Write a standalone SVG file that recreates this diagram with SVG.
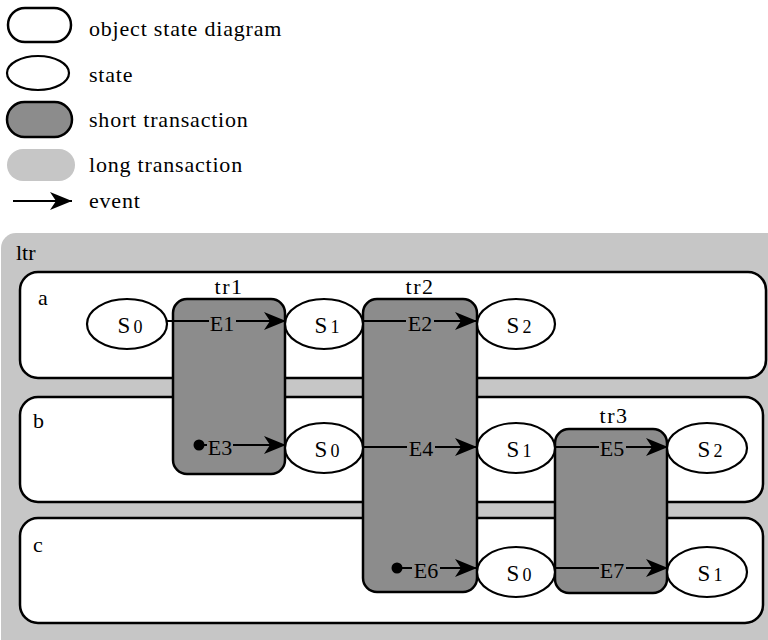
<svg xmlns="http://www.w3.org/2000/svg" width="768" height="640" viewBox="0 0 768 640" font-family="'Liberation Serif', serif">
<style>
.osd{fill:#fff;stroke:#000;stroke-width:2.5}
.state{fill:#fff;stroke:#000;stroke-width:2.2}
.short{fill:#8c8c8c;stroke:#000;stroke-width:2.5}
.long{fill:#c6c6c6;stroke:none}
.conn{fill:none;stroke:#000;stroke-width:2;marker-end:url(#arr)}
</style>
<defs>
<marker id="arr" markerUnits="userSpaceOnUse" viewBox="0 0 22 18" refX="22" refY="9" markerWidth="22" markerHeight="18" orient="auto">
<path d="M0,0 L22,9 L0,18 L6,9 Z" fill="#000"/>
</marker>
</defs>
<rect width="768" height="640" fill="#fff"/>

<g id="legend">
<rect class="osd" x="8" y="8" width="63" height="34" rx="17"/>
<text x="89" y="36" font-size="22" letter-spacing="0.8">object state diagram</text>
<ellipse class="state" cx="38" cy="73" rx="31" ry="17"/>
<text x="89" y="82" font-size="22" letter-spacing="0.8">state</text>
<rect class="short" x="7" y="102" width="65" height="35" rx="17.5"/>
<text x="89" y="127" font-size="22" letter-spacing="0.8">short transaction</text>
<rect class="long" x="7" y="149" width="68" height="32" rx="16"/>
<text x="89" y="172" font-size="22" letter-spacing="0.8">long transaction</text>
<path class="conn" d="M13,201 H72"/>
<text x="89" y="208" font-size="22" letter-spacing="0.8">event</text>
</g>

<g id="ltr">
<rect class="long" x="1" y="233" width="800" height="430" rx="15"/>
<text x="16" y="260" font-size="22">ltr</text>
</g>

<g id="a">
<rect class="osd" x="20" y="272" width="746" height="106" rx="18"/>
<text x="38" y="305" font-size="22">a</text>
</g>
<g id="b">
<rect class="osd" x="20" y="397" width="743" height="105" rx="18"/>
<text x="33" y="428" font-size="22">b</text>
</g>
<g id="c">
<rect class="osd" x="20" y="518" width="743" height="105" rx="18"/>
<text x="33" y="552" font-size="22">c</text>
</g>

<g id="tr1">
<rect class="short" x="173" y="299" width="112" height="175" rx="14"/>
<text x="229" y="294" text-anchor="middle" font-size="22" letter-spacing="1.5">tr1</text>
</g>
<g id="tr2">
<rect class="short" x="363" y="299" width="114" height="293" rx="14"/>
<text x="420" y="294" text-anchor="middle" font-size="22" letter-spacing="1.5">tr2</text>
</g>
<g id="tr3">
<rect class="short" x="555" y="429" width="112" height="164" rx="14"/>
<text x="614" y="423" text-anchor="middle" font-size="22" letter-spacing="1.5">tr3</text>
</g>

<g id="a-S0"><ellipse class="state" cx="127" cy="324" rx="40" ry="25"/><text x="130" y="333" text-anchor="middle" font-size="23">S<tspan font-size="18" dx="3">0</tspan></text></g>
<g id="a-S1"><ellipse class="state" cx="324" cy="324" rx="39" ry="25"/><text x="327" y="333" text-anchor="middle" font-size="23">S<tspan font-size="18" dx="3">1</tspan></text></g>
<g id="a-S2"><ellipse class="state" cx="516" cy="324" rx="39" ry="25"/><text x="519" y="333" text-anchor="middle" font-size="23">S<tspan font-size="18" dx="3">2</tspan></text></g>
<g id="b-S0"><ellipse class="state" cx="324" cy="448" rx="39" ry="25"/><text x="327" y="457" text-anchor="middle" font-size="23">S<tspan font-size="18" dx="3">0</tspan></text></g>
<g id="b-S1"><ellipse class="state" cx="516" cy="448" rx="39" ry="25"/><text x="519" y="457" text-anchor="middle" font-size="23">S<tspan font-size="18" dx="3">1</tspan></text></g>
<g id="b-S2"><ellipse class="state" cx="707" cy="448" rx="40" ry="25"/><text x="710" y="457" text-anchor="middle" font-size="23">S<tspan font-size="18" dx="3">2</tspan></text></g>
<g id="c-S0"><ellipse class="state" cx="516" cy="572" rx="39" ry="25"/><text x="519" y="581" text-anchor="middle" font-size="23">S<tspan font-size="18" dx="3">0</tspan></text></g>
<g id="c-S1"><ellipse class="state" cx="707" cy="572" rx="40" ry="25"/><text x="710" y="581" text-anchor="middle" font-size="23">S<tspan font-size="18" dx="3">1</tspan></text></g>

<g id="connectors">
<path class="conn" d="M167,321 H209 M236,321 H286"/>
<text x="222" y="331" text-anchor="middle" font-size="22">E1</text>
<path class="conn" d="M363,321 H406 M434,321 H477"/>
<text x="420" y="331" text-anchor="middle" font-size="22">E2</text>
<circle cx="199" cy="445" r="5.5" fill="#000"/>
<path class="conn" d="M199,445 H207 M233,445 H286"/>
<text x="220" y="455" text-anchor="middle" font-size="22">E3</text>
<path class="conn" d="M363,447 H407 M435,447 H477"/>
<text x="421" y="456" text-anchor="middle" font-size="22">E4</text>
<path class="conn" d="M554,447 H599 M626,447 H668"/>
<text x="612" y="456" text-anchor="middle" font-size="22">E5</text>
<circle cx="397" cy="568" r="5.5" fill="#000"/>
<path class="conn" d="M397,568 H412 M440,568 H477"/>
<text x="426" y="578" text-anchor="middle" font-size="22">E6</text>
<path class="conn" d="M554,568 H599 M626,568 H668"/>
<text x="612" y="578" text-anchor="middle" font-size="22">E7</text>
</g>
</svg>
